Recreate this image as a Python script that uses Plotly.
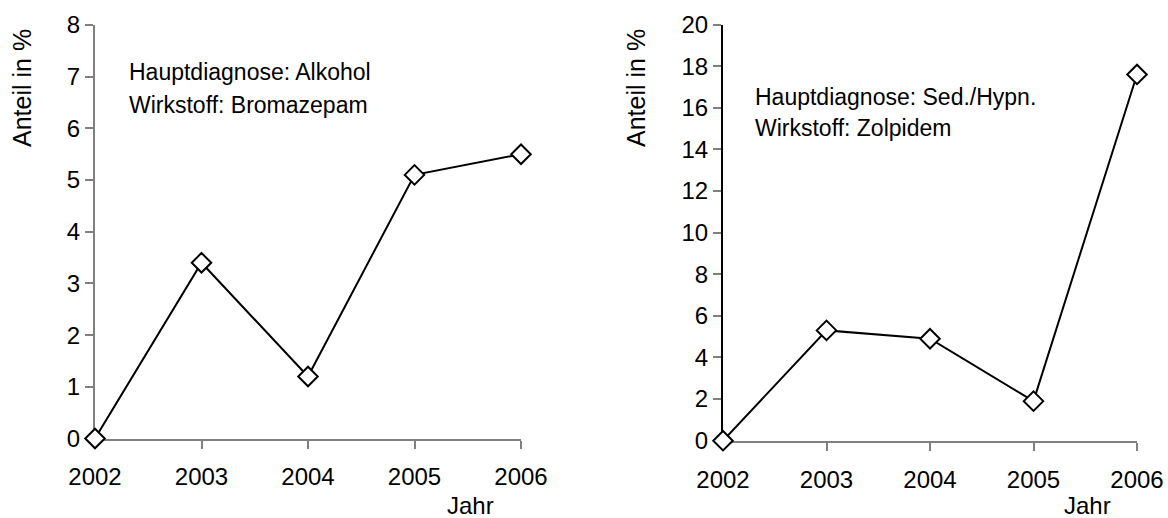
import plotly.graph_objects as go

# Jahre und Anteile (in %) für beide Wirkstoffe
jahre = [2002, 2003, 2004, 2005, 2006]
bromazepam = [0.0, 3.4, 1.2, 5.1, 5.5]
zolpidem = [0.0, 5.3, 4.9, 1.9, 17.6]

W, H = 1168, 518
FONT = "Liberation Sans, Arial, sans-serif"


def px_x(v):
    return v / W


def px_y(v):
    return 1 - v / H


fig = go.Figure()

for vals, xa, ya in [(bromazepam, "x", "y"), (zolpidem, "x2", "y2")]:
    fig.add_trace(go.Scatter(
        x=jahre, y=vals, xaxis=xa, yaxis=ya,
        mode="lines+markers",
        line=dict(color="black", width=2),
        marker=dict(symbol="diamond", size=15, color="white",
                    line=dict(color="black", width=2)),
        cliponaxis=False, showlegend=False,
    ))

axis_font = dict(family=FONT, size=24, color="black")

common_x = dict(
    tickvals=jahre, ticktext=[str(j) for j in jahre],
    range=[2002, 2006], showline=True, linecolor="#808080", linewidth=2,
    ticks="outside", ticklen=8, tickcolor="#808080", tickwidth=1.5,
    ticklabelstandoff=8,
    showgrid=False, zeroline=False, tickfont=axis_font,
    automargin=False, layer="below traces",
)
common_y = dict(
    showline=True, linewidth=2, ticks="outside", ticklen=8, tickwidth=1.5,
    showgrid=False, zeroline=False, tickfont=axis_font,
    automargin=False, layer="below traces",
)

fig.update_layout(
    width=W, height=H,
    margin=dict(l=0, r=0, t=0, b=0, autoexpand=False),
    paper_bgcolor="white", plot_bgcolor="white",
    font=dict(family=FONT, color="black"),
    xaxis=dict(domain=[px_x(95), px_x(521)], anchor="y", **common_x),
    yaxis=dict(domain=[px_y(438.5), px_y(25)], anchor="x", range=[0, 8],
               dtick=1, linecolor="#808080", tickcolor="#808080", **common_y),
    xaxis2=dict(domain=[px_x(723), px_x(1137)], anchor="y2", **common_x),
    yaxis2=dict(domain=[px_y(440.7), px_y(24.5)], anchor="x2", range=[0, 20],
                dtick=2, linecolor="black", tickcolor="#808080", **common_y),
)

title_font = dict(family=FONT, size=24, color="black")
for x in (22, 636):
    fig.add_annotation(x=px_x(x), y=px_y(88), xref="paper", yref="paper",
                       text="Anteil in %", showarrow=False, textangle=-90,
                       font=dict(family=FONT, size=25, color="black"),
                       xanchor="center", yanchor="middle")
for x in (470, 1087):
    fig.add_annotation(x=px_x(x), y=px_y(521), xref="paper", yref="paper",
                       text="Jahr", showarrow=False, font=title_font,
                       xanchor="center", yanchor="bottom")

text_font = dict(family=FONT, size=23, color="black")
labels = [
    (127, 72, "Hauptdiagnose: Alkohol"),
    (127, 105, "Wirkstoff: Bromazepam"),
    (753, 97, "Hauptdiagnose: Sed./Hypn."),
    (753, 128, "Wirkstoff: Zolpidem"),
]
for x, y, t in labels:
    fig.add_annotation(x=px_x(x), y=px_y(y), xref="paper", yref="paper",
                       text=t, showarrow=False, font=text_font,
                       xanchor="left", yanchor="middle")

fig.write_html("out.html")
